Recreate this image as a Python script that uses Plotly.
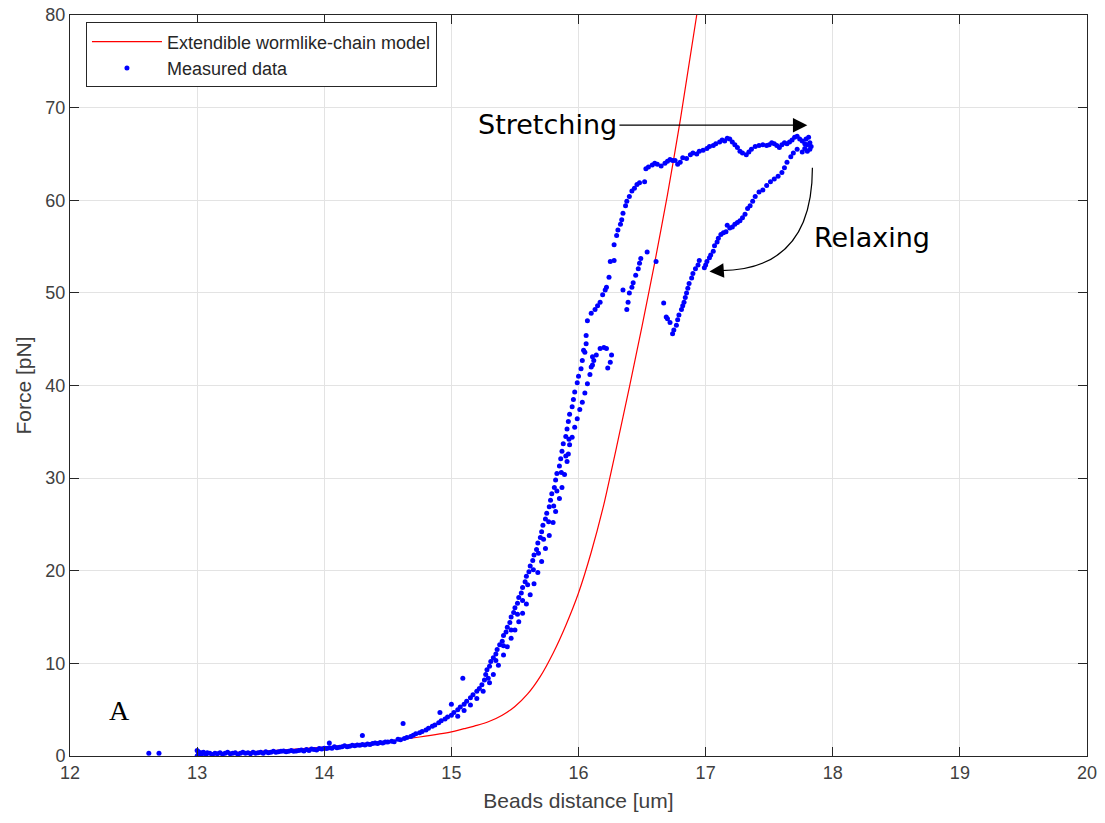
import plotly.graph_objects as go

# ---------------- data ----------------
model_x = [13.0, 13.5, 14.0, 14.5, 14.75, 15.0, 15.1, 15.2, 15.3, 15.4, 15.5, 15.6, 15.7, 15.8, 15.9,
           16.0, 16.1, 16.2, 16.3, 16.4, 16.5, 16.6, 16.7, 16.8, 16.93]
model_y = [0.2, 0.5, 0.95, 1.6, 2.05, 2.6, 2.95, 3.3, 3.75, 4.4, 5.35, 6.7, 8.6, 11.1, 14.1,
           17.6, 22.0, 27.2, 33.4, 39.8, 46.4, 53.3, 60.6, 68.6, 80.0]

flat_pts = [(12.62, 0.3), (12.70, 0.3), (13.00, 0.0), (13.00, 0.6), (13.01, 0.2), (13.01, 0.45),
            (13.02, 0.1), (13.03, 0.35), (13.04, 0.25), (13.05, 0.4), (13.07, 0.2), (13.08, 0.35),
            (13.10, 0.3), (13.12, 0.15), (13.14, 0.3), (13.16, 0.25), (13.18, 0.35), (13.20, 0.2),
            (13.22, 0.3), (13.24, 0.4), (13.26, 0.25), (13.28, 0.3), (13.30, 0.35), (13.32, 0.2),
            (13.34, 0.3), (13.36, 0.4), (13.38, 0.3), (13.40, 0.35), (13.42, 0.25), (13.44, 0.4),
            (13.46, 0.3), (13.48, 0.35), (13.50, 0.4), (13.52, 0.3), (13.54, 0.45), (13.56, 0.35),
            (13.58, 0.4), (13.60, 0.5), (13.62, 0.4), (13.64, 0.45), (13.66, 0.5), (13.68, 0.55),
            (13.70, 0.45), (13.72, 0.5), (13.74, 0.6), (13.76, 0.5), (13.78, 0.55), (13.80, 0.6),
            (13.82, 0.65), (13.84, 0.55), (13.86, 0.7), (13.88, 0.6), (13.90, 0.75), (13.92, 0.7),
            (13.94, 0.65), (13.96, 0.8), (13.98, 0.75), (14.00, 0.85), (14.02, 0.8), (14.04, 0.9),
            (14.06, 0.85), (14.08, 1.0), (14.10, 0.9), (14.12, 0.95), (14.14, 1.0), (14.16, 1.1),
            (14.18, 1.0), (14.20, 1.05), (14.22, 1.15), (14.24, 1.1), (14.26, 1.2), (14.28, 1.15),
            (14.30, 1.25), (14.32, 1.2), (14.34, 1.3), (14.36, 1.25), (14.38, 1.35), (14.40, 1.4),
            (14.42, 1.35), (14.44, 1.45), (14.46, 1.4), (14.48, 1.5)]

outlier_pts = [(14.04, 1.4), (14.30, 2.2), (14.62, 3.5), (14.91, 4.7), (15.00, 5.6), (15.09, 8.4)]

rise_left_pts = [(14.50, 1.5), (14.53, 1.6), (14.55, 1.55), (14.58, 1.8), (14.60, 1.75), (14.63, 1.9),
                 (14.65, 2.0), (14.68, 2.1), (14.70, 2.25), (14.72, 2.4), (14.75, 2.5), (14.77, 2.65),
                 (14.80, 2.8), (14.82, 3.0), (14.85, 3.2), (14.87, 3.35), (14.90, 3.6), (14.92, 3.8),
                 (14.95, 4.0), (14.97, 4.2), (15.00, 4.4), (15.02, 4.7), (15.05, 5.0), (15.07, 5.3),
                 (15.10, 5.6), (15.12, 5.9), (15.15, 6.3), (15.17, 6.6), (15.20, 7.0), (15.22, 7.3),
                 (15.24, 7.7), (15.26, 8.2), (15.27, 8.8), (15.28, 9.3), (15.30, 9.7), (15.31, 10.2),
                 (15.33, 10.6), (15.35, 11.0), (15.36, 11.5), (15.38, 12.0), (15.40, 12.4), (15.41, 13.0),
                 (15.43, 13.4), (15.44, 13.9), (15.46, 14.4), (15.47, 15.0), (15.49, 15.5), (15.50, 16.0),
                 (15.52, 16.5), (15.53, 17.1), (15.55, 17.6), (15.56, 18.2), (15.58, 18.8), (15.59, 19.4),
                 (15.61, 19.9), (15.62, 20.5), (15.64, 21.1), (15.65, 21.7), (15.67, 22.3), (15.68, 23.0),
                 (15.70, 23.6), (15.71, 24.2), (15.72, 24.9), (15.74, 25.6), (15.75, 26.2), (15.77, 26.9),
                 (15.78, 27.6), (15.79, 28.3), (15.81, 29.0), (15.82, 29.8), (15.83, 30.5), (15.85, 31.3),
                 (15.86, 32.1), (15.87, 32.9), (15.88, 33.7), (15.90, 34.5), (15.91, 35.3), (15.92, 36.1),
                 (15.93, 36.9), (15.95, 37.7), (15.96, 38.5), (15.97, 39.3), (15.99, 40.3), (16.00, 41.0),
                 (16.02, 41.8), (16.03, 42.7), (16.05, 43.6), (16.06, 44.5), (16.06, 45.4)]

rise_mid_pts = [(15.29, 8.4), (15.35, 10.3), (15.41, 11.9), (15.47, 13.6), (15.52, 15.3), (15.56, 16.8),
                (15.60, 18.5), (15.645, 20.1), (15.685, 21.9), (15.725, 23.4), (15.765, 25.3),
                (15.805, 27.0), (15.83, 28.6), (15.865, 30.6), (15.90, 32.4), (15.925, 34.2)]

rise_right_pts = [(15.05, 4.3), (15.10, 4.9), (15.15, 5.5), (15.20, 6.2), (15.25, 7.0), (15.30, 7.9),
                  (15.33, 8.8), (15.37, 9.8), (15.41, 10.9), (15.44, 11.8), (15.47, 12.7), (15.50, 13.6),
                  (15.53, 14.5), (15.56, 15.4), (15.59, 16.4), (15.62, 17.4), (15.65, 18.6), (15.68, 19.8),
                  (15.71, 21.0), (15.74, 22.4), (15.77, 23.8), (15.80, 25.2), (15.82, 26.4), (15.85, 27.8),
                  (15.87, 29.0), (15.89, 30.4), (15.91, 31.8), (15.92, 32.6), (15.93, 33.6), (15.95, 34.4),
                  (15.97, 35.5), (15.99, 36.4), (16.01, 37.4), (16.03, 38.2), (16.05, 39.2), (16.07, 40.2),
                  (16.09, 41.2), (16.10, 42.0), (16.12, 42.7), (16.14, 43.3), (16.17, 44.0), (16.20, 44.1),
                  (16.22, 44.0), (16.26, 43.3), (16.25, 42.5), (16.23, 41.9),
                  (16.04, 43.8), (16.11, 43.1), (16.11, 42.2)]

stretch_top_pts = [(16.07, 47.0), (16.10, 47.8), (16.13, 48.2), (16.15, 48.6), (16.17, 49.0), (16.19, 49.8),
                   (16.21, 50.3), (16.22, 50.6), (16.24, 51.7), (16.25, 53.4), (16.28, 53.5), (16.28, 55.2),
                   (16.30, 56.2), (16.31, 56.8), (16.33, 57.4), (16.34, 57.9), (16.35, 58.6), (16.37, 59.4),
                   (16.38, 59.9), (16.40, 60.4), (16.42, 61.0), (16.44, 61.3), (16.46, 61.7), (16.48, 61.9),
                   (16.52, 62.0), (16.53, 63.4), (16.55, 63.6), (16.58, 63.8), (16.60, 64.0), (16.62, 63.9),
                   (16.65, 63.7), (16.68, 64.0), (16.70, 64.2), (16.72, 64.4), (16.74, 64.3), (16.76, 64.3),
                   (16.78, 63.9), (16.80, 64.1), (16.82, 64.6), (16.85, 64.5), (16.88, 64.9), (16.90, 65.1),
                   (16.93, 65.0), (16.95, 65.3), (16.98, 65.4), (17.01, 65.6), (17.03, 65.8), (17.06, 65.9),
                   (17.08, 66.1), (17.11, 66.3), (17.13, 66.5), (17.15, 66.4), (17.17, 66.7), (17.19, 66.6),
                   (17.21, 66.3), (17.23, 66.0), (17.25, 65.7), (17.27, 65.3), (17.29, 65.1), (17.32, 64.9),
                   (17.34, 65.2), (17.36, 65.5), (17.39, 65.8), (17.42, 65.9), (17.45, 66.0), (17.48, 65.9),
                   (17.50, 66.0), (17.52, 66.2), (17.54, 66.1), (17.56, 65.9), (17.58, 65.7), (17.60, 66.0),
                   (17.62, 66.2), (17.64, 66.1), (17.66, 66.3), (17.68, 66.5), (17.70, 66.8), (17.72, 66.9),
                   (17.74, 66.6), (17.76, 66.4), (17.78, 66.1), (17.80, 66.0), (17.82, 66.2), (17.83, 65.8),
                   (17.82, 65.5), (17.80, 65.3), (17.78, 65.6), (17.76, 65.2), (17.79, 66.6), (17.81, 66.8)]

relax_pts = [(17.72, 65.5), (17.69, 65.1), (17.67, 64.7), (17.64, 64.1), (17.62, 63.5), (17.60, 63.0),
             (17.57, 62.6), (17.54, 62.3), (17.51, 62.0), (17.48, 61.6), (17.45, 61.1), (17.42, 60.9),
             (17.39, 60.4), (17.37, 59.9), (17.35, 59.4), (17.33, 59.1), (17.31, 58.5), (17.29, 58.1),
             (17.27, 57.8), (17.25, 57.6), (17.23, 57.4), (17.21, 57.1), (17.19, 57.0), (17.17, 57.3),
             (17.16, 56.6), (17.14, 56.5), (17.12, 56.3), (17.10, 55.9), (17.09, 55.5), (17.07, 55.1),
             (17.06, 54.5), (17.04, 54.1), (17.03, 53.8), (17.01, 53.4), (17.00, 53.0), (16.99, 52.7),
             (16.95, 53.5), (16.94, 53.0), (16.92, 52.6), (16.90, 52.1), (16.89, 51.6), (16.87, 51.0),
             (16.86, 50.5), (16.85, 50.0), (16.84, 49.5), (16.83, 49.0), (16.82, 48.6), (16.81, 48.2),
             (16.79, 47.6), (16.78, 47.1), (16.77, 46.5), (16.75, 46.0), (16.74, 45.6), (16.72, 46.8),
             (16.70, 47.2), (16.69, 47.4), (16.67, 48.9)]

middle_pts = [(16.38, 48.2), (16.39, 49.0), (16.40, 50.0), (16.35, 50.3), (16.42, 50.6), (16.43, 51.1),
              (16.45, 51.9), (16.47, 52.6), (16.48, 53.2), (16.49, 53.7), (16.54, 54.4), (16.61, 53.4)]

all_pts = (flat_pts + outlier_pts + rise_left_pts + rise_mid_pts + rise_right_pts +
           stretch_top_pts + relax_pts + middle_pts)
data_x = [p[0] for p in all_pts]
data_y = [p[1] for p in all_pts]

x_ticks = [12, 13, 14, 15, 16, 17, 18, 19, 20]
y_ticks = [0, 10, 20, 30, 40, 50, 60, 70, 80]

# ---------------- figure ----------------
AX = '#262626'
TXT = '#404040'
FONT = 'Liberation Sans, Arial'
fig = go.Figure()
fig.add_trace(go.Scatter(x=model_x, y=model_y, mode='lines',
                         line=dict(color='#ff0000', width=1.2, shape='spline', smoothing=0.5),
                         name='Extendible wormlike-chain model'))
fig.add_trace(go.Scatter(x=data_x, y=data_y, mode='markers',
                         marker=dict(color='#0000ff', size=5, line=dict(width=0)),
                         name='Measured data'))

axis_common = dict(showline=True, linecolor=AX, linewidth=1, mirror='ticks',
                   ticks='inside', ticklen=9, tickcolor=AX, tickwidth=1,
                   showgrid=True, gridcolor='#e3e3e3', gridwidth=1, zeroline=False,
                   automargin=False,
                   tickfont=dict(family=FONT, size=18, color=TXT))

fig.update_xaxes(range=[12, 20], tickvals=x_ticks, ticktext=[str(v) for v in x_ticks],
                 title=dict(text='Beads distance [um]', standoff=11,
                            font=dict(family=FONT, size=21, color=TXT)),
                 **axis_common)
fig.update_yaxes(range=[0, 80], tickvals=y_ticks, ticktext=[str(v) for v in y_ticks],
                 title=dict(text='Force [pN]', standoff=8,
                            font=dict(family=FONT, size=21, color=TXT)),
                 **axis_common)

# Stretching arrow
fig.add_annotation(x=17.80, y=68.1, ax=16.31, ay=68.1, xref='x', yref='y', axref='x', ayref='y',
                   showarrow=True, arrowhead=2, arrowsize=2.4, arrowwidth=1.2, arrowcolor='black', text='')
fig.add_annotation(x=16.32, y=68.2, xref='x', yref='y', text='Stretching', showarrow=False,
                   xanchor='right', font=dict(family='DejaVu Sans', size=27, color='black'))
# Relaxing curved arrow
fig.add_shape(type='path', path='M 17.84,63.5 Q 17.84,52.5 17.12,52.4', xref='x', yref='y',
              line=dict(color='black', width=1.2))
fig.add_annotation(x=17.03, y=52.3, ax=17.13, ay=52.4, xref='x', yref='y', axref='x', ayref='y',
                   showarrow=True, arrowhead=2, arrowsize=2.4, arrowwidth=1.2, arrowcolor='black', text='')
fig.add_annotation(x=17.84, y=55.95, xref='x', yref='y', text='Relaxing', showarrow=False,
                   xanchor='left', font=dict(family='DejaVu Sans', size=27, color='black'))
fig.add_annotation(x=12.39, y=4.9, xref='x', yref='y', text='A', showarrow=False,
                   font=dict(family='Liberation Serif, Times New Roman', size=28, color='black'))

fig.update_layout(
    width=1105, height=823,
    margin=dict(l=70, r=18, t=15, b=67),
    paper_bgcolor='white', plot_bgcolor='white',
    showlegend=True,
    legend=dict(x=0.0157, y=0.99, xanchor='left', yanchor='top',
                bgcolor='white', bordercolor=AX, borderwidth=1, itemwidth=70,
                font=dict(family=FONT, size=18, color=AX),
                tracegroupgap=0),
)

fig.write_html('out.html')
